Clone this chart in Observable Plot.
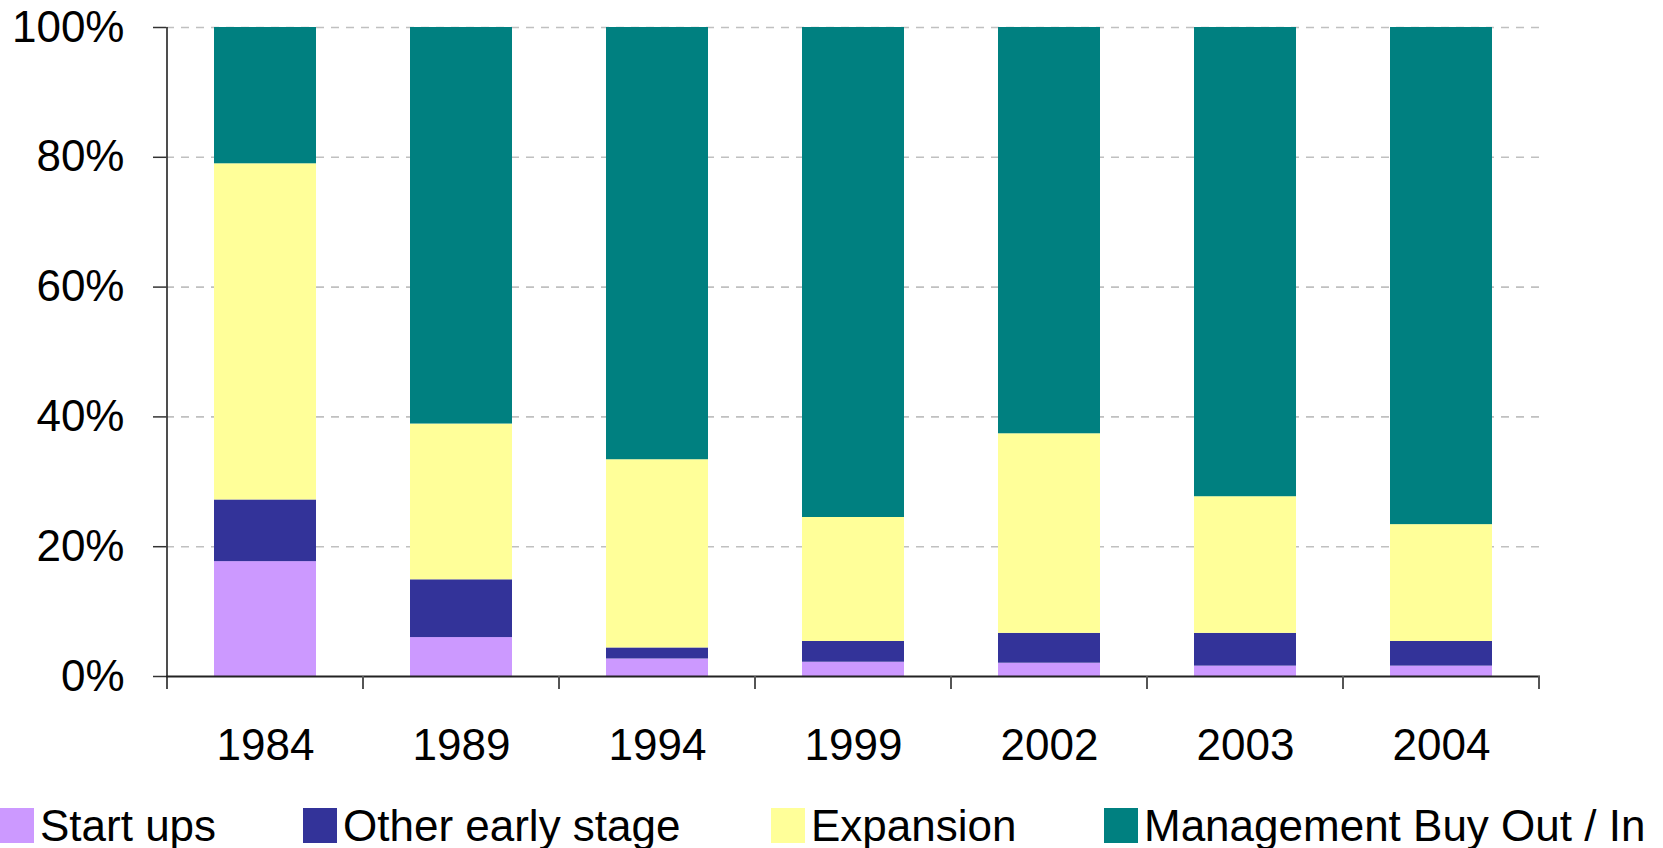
<!DOCTYPE html>
<html>
<head>
<meta charset="utf-8">
<script src="https://cdn.jsdelivr.net/npm/d3@7"></script>
<script src="https://cdn.jsdelivr.net/npm/@observablehq/plot@0.6"></script>
<style>
  html, body { margin: 0; padding: 0; background: #fff; }
  body { font-family: "Liberation Sans", Arial, sans-serif; width: 1663px; }
  #legend { position: relative; height: 48px; font-size: 44px; color: #000; white-space: nowrap; }
  .item { position: absolute; top: 8px; display: flex; align-items: center; height: 35px; }
  .sw { width: 34px; height: 35px; margin-right: 6px; flex: none; }
</style>
</head>
<body>
<div id="chart"></div>
<div id="legend"></div>
<script>
const years = ["1984", "1989", "1994", "1999", "2002", "2003", "2004"];
const seriesNames = ["Start ups", "Other early stage", "Expansion", "Management Buy Out / In"];
const seriesColors = ["#CC99FF", "#333399", "#FFFF99", "#008080"];
const startUps   = [17.7, 6.0, 2.7, 2.2, 2.05, 1.6, 1.6];
const otherEarly = [9.5, 8.9, 1.7, 3.2, 4.6, 5.05, 3.8];
const expansion  = [51.8, 24.0, 29.0, 19.1, 30.75, 21.05, 18.0];
const mbo        = [21.0, 61.1, 66.6, 75.5, 62.6, 72.3, 76.6];
const yTicks = [0, 20, 40, 60, 80, 100];

const seriesValues = [startUps, otherEarly, expansion, mbo];
const rows = [];
years.forEach((yr, i) => {
  seriesNames.forEach((s, j) => rows.push({year: yr, series: s, value: seriesValues[j][i]}));
});

const font = '"Liberation Sans", Arial, sans-serif';
const chart = Plot.plot({
  width: 1663,
  height: 800,
  marginLeft: 166,
  marginRight: 123,
  marginTop: 27,
  marginBottom: 124,
  style: {fontFamily: font, fontSize: "44px", color: "#000", background: "#fff"},
  x: {domain: years, paddingInner: 0.48, paddingOuter: 0.24, label: null},
  y: {domain: [0, 100], label: null},
  color: {domain: seriesNames, range: seriesColors},
  marks: [
    Plot.gridY(yTicks.filter(d => d > 0), {stroke: "#c0c0c0", strokeOpacity: 1, strokeWidth: 1.6, strokeDasharray: "8,7"}),
    Plot.barY(rows, {x: "year", y: "value", fill: "series", order: seriesNames}),
    Plot.ruleY([0], {stroke: "#222", strokeWidth: 2}),
    Plot.axisY({ticks: yTicks, tickFormat: d => d + "%", tickSize: 13, tickPadding: 29, fontSize: 44, stroke: "#333", strokeWidth: 1.5, fill: "#000", label: null}),
    Plot.axisX({tickSize: 0, tickPadding: 52, fontSize: 44, fill: "#000", label: null})
  ]
});
document.getElementById("chart").appendChild(chart);

// Y axis line and category boundary ticks, positioned with the plot's own scales
const xs = chart.scale("x");
const ys = chart.scale("y");
const svg = d3.select(chart);
const y0 = ys.apply(0), y100 = ys.apply(100);
const xLeft = xs.apply(years[0]) - (xs.step - xs.bandwidth) / 2;
svg.append("line")
  .attr("x1", xLeft).attr("x2", xLeft).attr("y1", y100).attr("y2", y0 + 13)
  .attr("stroke", "#222").attr("stroke-width", 1.6);
const bounds = years.map(yr => xs.apply(yr) - (xs.step - xs.bandwidth) / 2);
bounds.push(xs.apply(years[years.length - 1]) + xs.bandwidth + (xs.step - xs.bandwidth) / 2);
svg.append("g").selectAll("line").data(bounds.slice(1)).join("line")
  .attr("x1", d => d).attr("x2", d => d).attr("y1", y0).attr("y2", y0 + 13)
  .attr("stroke", "#555").attr("stroke-width", 2);

// Legend
const legendLeft = [0, 303, 771, 1104];
const legend = d3.select("#legend");
seriesNames.forEach((s, j) => {
  const it = legend.append("div").attr("class", "item").style("left", legendLeft[j] + "px");
  it.append("div").attr("class", "sw").style("background", seriesColors[j]);
  it.append("span").text(s);
});
</script>
</body>
</html>
